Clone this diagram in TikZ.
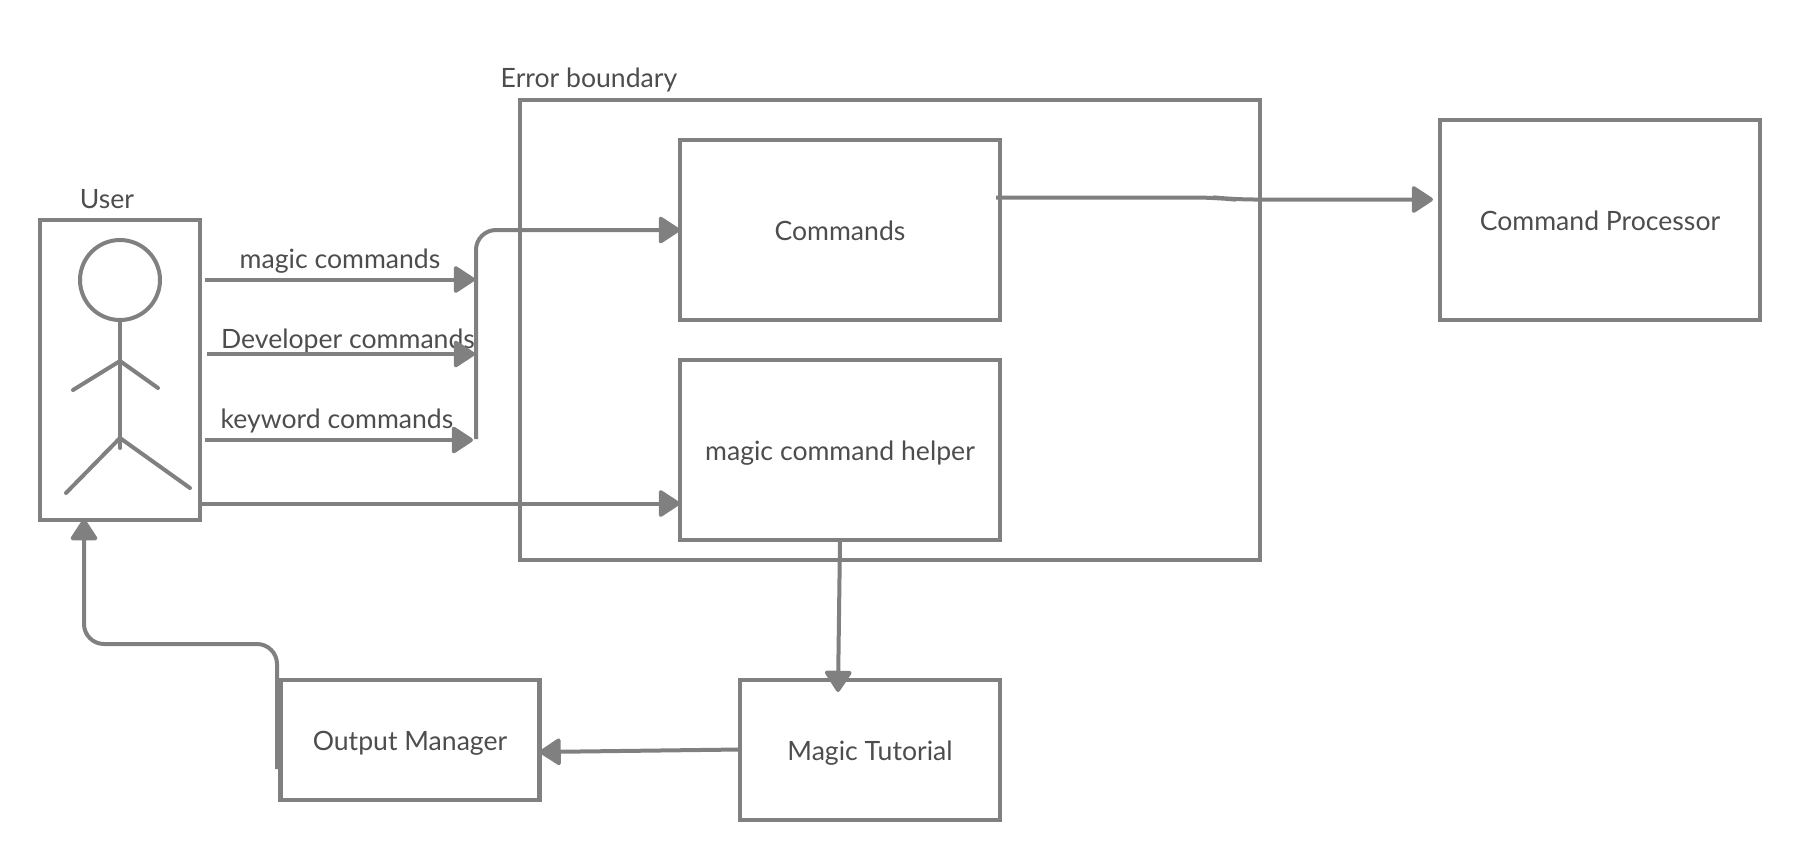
\documentclass[tikz,border=0pt]{standalone}
\usepackage{fontspec}
\setmainfont{Lato}
\usetikzlibrary{arrows.meta}
\definecolor{linegray}{HTML}{808080}
\definecolor{textgray}{HTML}{4D4D4D}
\tikzset{
  x=1pt,y=-1pt,
  box/.style={draw=linegray,line width=4.4pt,outer sep=0pt,inner sep=0pt,line join=miter,text=textgray,font=\fontsize{26.6}{32}\selectfont,text height=20pt,text depth=0pt,anchor=center},
  label/.style={text=textgray,font=\fontsize{26.6}{32}\selectfont,text height=20pt,text depth=0pt,inner sep=0pt,outer sep=0pt,anchor=center},
  conn/.style={draw=linegray,line width=4pt,line join=round,-{Triangle[length=23pt,width=29pt,round]},rounded corners=20pt},
  limb/.style={draw=linegray,line width=4pt,line cap=round,line join=round},
}
\begin{document}
\begin{tikzpicture}
\useasboundingbox (0,0) rectangle (1800,860);
% boxes
\node[box,minimum width=740pt,minimum height=460pt] (boundary) at (890,330) {};
\node[box,minimum width=160pt,minimum height=300pt] (user) at (120,370) {};
\node[box,minimum width=320pt,minimum height=180pt] (commands) at (840,230) {Commands};
\node[box,minimum width=320pt,minimum height=180pt] (helper) at (840,450) {magic command helper};
\node[box,minimum width=320pt,minimum height=200pt] (processor) at (1600,220) {Command Processor};
\node[box,minimum width=259pt,minimum height=120pt] (output) at (410,740) {Output Manager};
\node[box,minimum width=260pt,minimum height=140pt] (tutorial) at (870,750) {Magic Tutorial};
% labels
\node[label] (boundarylabel) at (589,77.5) {Error boundary};
\node[label] (userlabel) at (107,198) {User};
\node[label] (magiclabel) at (340,258.5) {magic commands};
\node[label] (devlabel) at (348,338) {Developer commands};
\node[label] (keywordlabel) at (337,418) {keyword commands};
% actor
\node[draw=linegray,line width=4pt,circle,minimum size=80pt,inner sep=0pt,outer sep=0pt] (head) at (120,280) {};
\coordinate (shoulder) at (120,361);
\coordinate (hip) at (120,438);
\coordinate (torsoend) at (120,448);
\coordinate (handl) at (73,390);
\coordinate (handr) at (158,388);
\coordinate (footl) at (66,493);
\coordinate (footr) at (190,488);
\draw[limb] (head.south) -- (torsoend);
\draw[limb] (handl) -- (shoulder) -- (handr);
\draw[limb] (footl) -- (hip) -- (footr);
% connectors
\coordinate (magicstart) at (205,279.5);
\coordinate (magicend) at (475,279.5);
\coordinate (devstart) at (207,354);
\coordinate (devend) at (475,354);
\coordinate (keystart) at (205,440);
\coordinate (keyend) at (473,440);
\coordinate (busstart) at (476,439);
\coordinate (buscorner) at (476,230);
\coordinate (outstart) at (277,769);
\coordinate (outcorner) at (277,644);
\coordinate (usercorner) at (84,644);
\coordinate (usertarget) at (84,519);
\coordinate (procstart) at (996,197.5);
\coordinate (procbend) at (1215,197.5);
\coordinate (procbend2) at (1234,199.5);
\coordinate (procend) at (1433,199.5);
\draw[conn] (magicstart) -- (magicend);
\draw[conn] (devstart) -- (devend);
\draw[conn] (keystart) -- (keyend);
\draw[conn] (busstart) -- (buscorner) -- (commands.west);
\draw[conn] (user.east |- 0,503.5) -- (helper.west |- 0,503.5);
\draw[conn] (procstart) -- (procbend) -- (procbend2) -- (procend);
\draw[conn] (helper.south) -- (838,692);
\draw[conn] (tutorial.west |- 0,749.5) -- (output.east |- 0,752);
\draw[conn] (outstart) -- (outcorner) -- (usercorner) -- (usertarget);
\end{tikzpicture}
\end{document}
